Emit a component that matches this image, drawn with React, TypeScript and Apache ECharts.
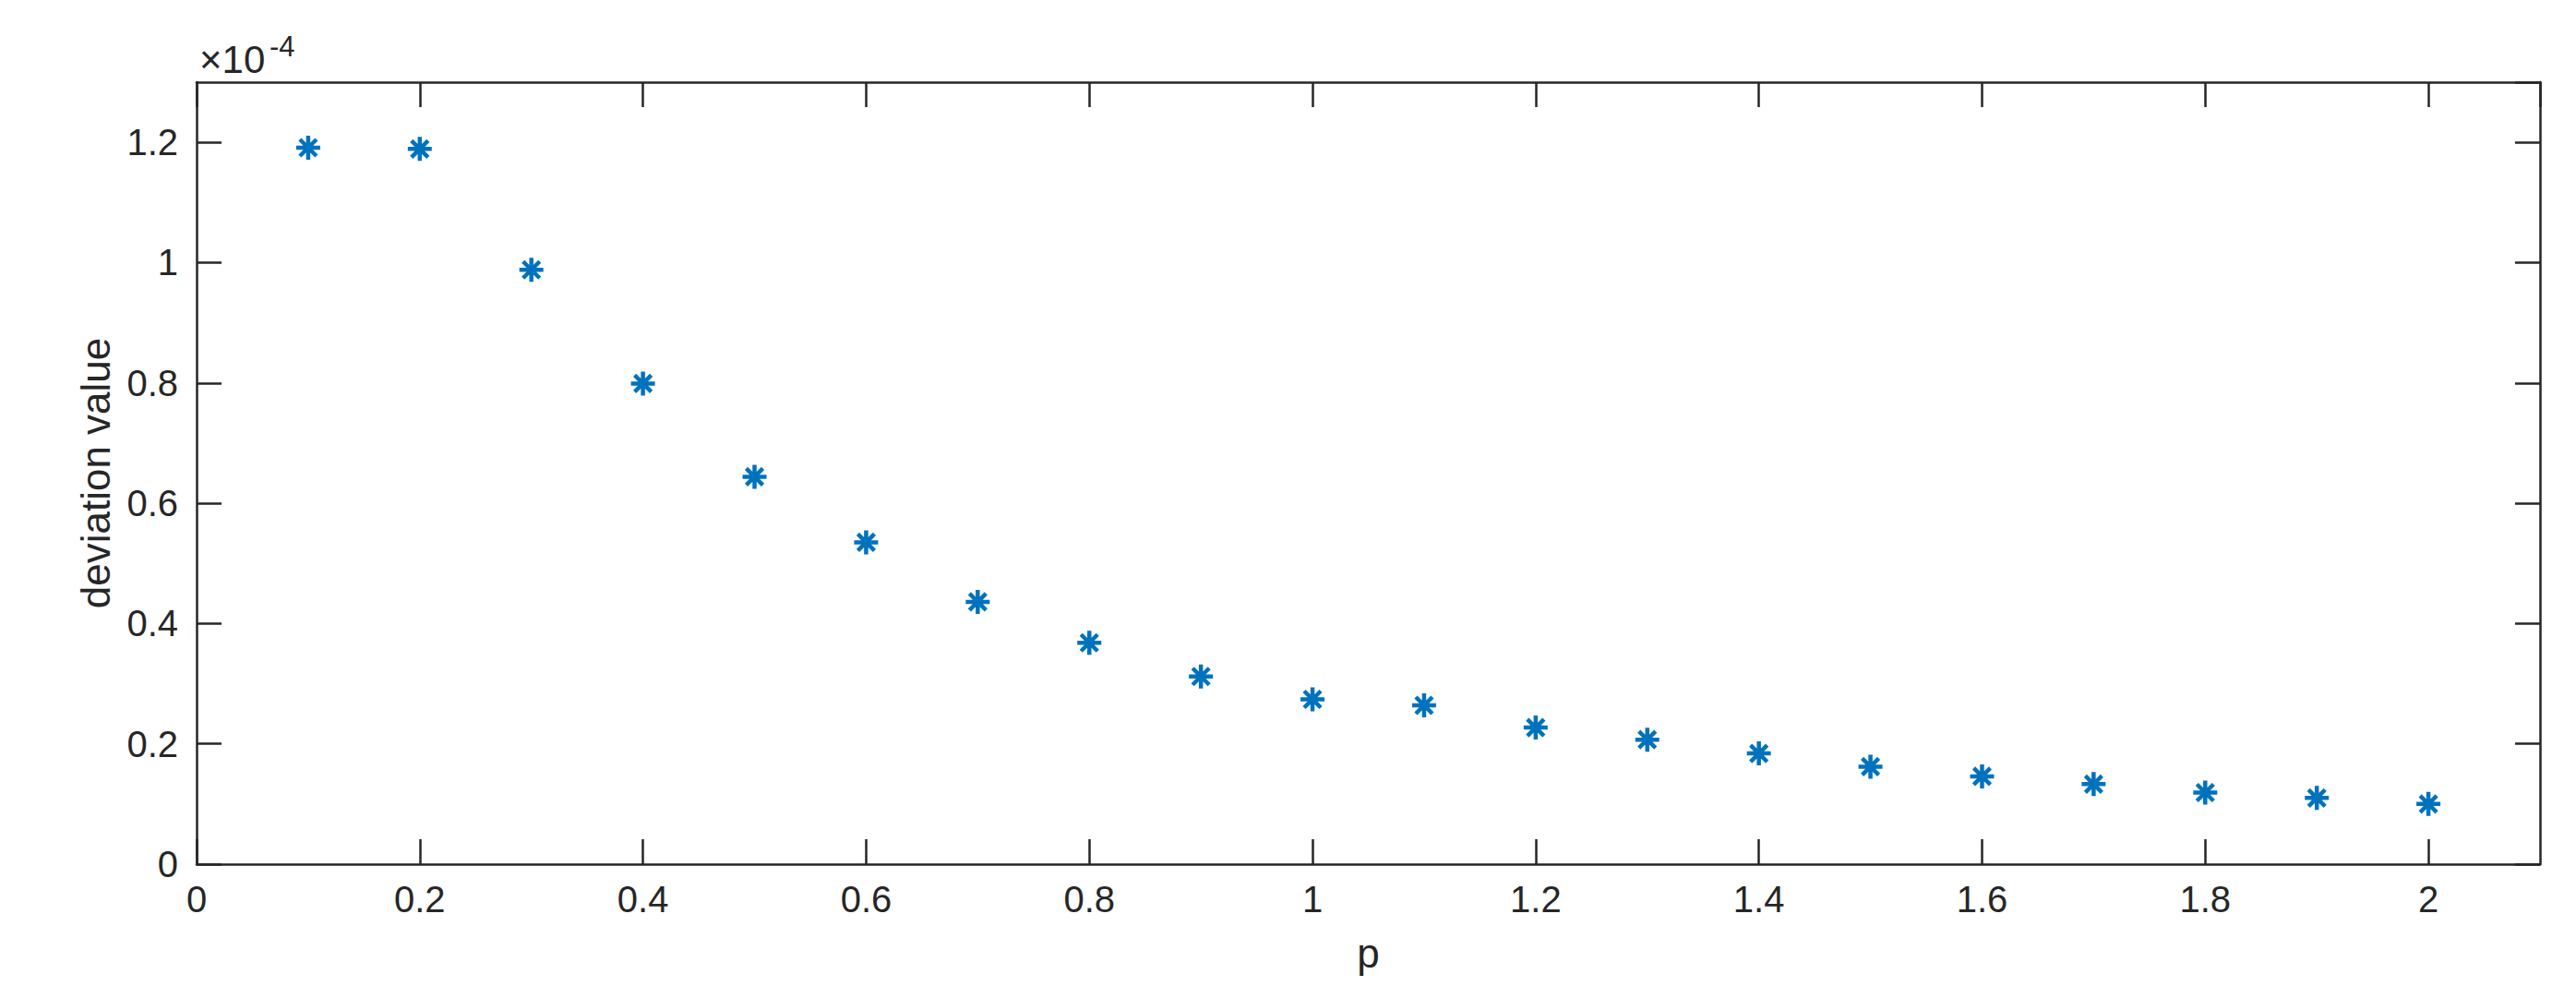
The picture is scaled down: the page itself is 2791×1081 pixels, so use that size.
import React, { useEffect, useRef } from "react";
import * as echarts from "echarts";

const pValues = [0.1, 0.2, 0.3, 0.4, 0.5, 0.6, 0.7, 0.8, 0.9, 1.0, 1.1, 1.2, 1.3, 1.4, 1.5, 1.6, 1.7, 1.8, 1.9, 2.0];
// deviation values in units of 1e-4
const deviationE4 = [1.191, 1.189, 0.988, 0.799, 0.644, 0.535, 0.436, 0.368, 0.312, 0.274, 0.264, 0.227, 0.207, 0.184, 0.162, 0.146, 0.133, 0.119, 0.110, 0.100];

const xAxisName = "p";
const yAxisName = "deviation value";
const exponentBase = "×10";
const exponentSup = "-4";

const INK = "#262626";
const BLUE = "#0072BD";
const FONT = "Liberation Sans, Arial, Helvetica, sans-serif";

export default function App() {
  const ref = useRef<HTMLDivElement>(null);
  useEffect(() => {
    if (!ref.current) return;
    const chart = echarts.init(ref.current, undefined, { renderer: "svg" });
    const axisCommon = {
      axisLine: { show: true, onZero: false, lineStyle: { color: INK, width: 2.5 } },
      axisTick: { show: true, inside: true, length: 27, lineStyle: { color: INK, width: 2.5 } },
      splitLine: { show: false },
    };
    chart.setOption({
      animation: false,
      backgroundColor: "#ffffff",
      grid: { left: 213, top: 89, right: 39, bottom: 145, containLabel: false },
      xAxis: [
        {
          type: "value",
          min: 0,
          max: 2.1,
          interval: 0.2,
          position: "bottom",
          ...axisCommon,
          axisLabel: {
            show: true,
            showMaxLabel: false,
            margin: 18,
            color: INK,
            fontSize: 40,
            fontFamily: FONT,
            formatter: (v: number) => String(Math.round(v * 10) / 10),
          },
          name: xAxisName,
          nameLocation: "middle",
          nameGap: 74,
          nameTextStyle: { color: INK, fontSize: 44, fontFamily: FONT },
        },
        {
          type: "value",
          min: 0,
          max: 2.1,
          interval: 0.2,
          position: "top",
          ...axisCommon,
          axisLabel: { show: false },
        },
      ],
      yAxis: [
        {
          type: "value",
          min: 0,
          max: 1.3,
          interval: 0.2,
          position: "left",
          ...axisCommon,
          axisLabel: {
            show: true,
            showMaxLabel: false,
            margin: 20,
            color: INK,
            fontSize: 40,
            fontFamily: FONT,
            formatter: (v: number) => String(Math.round(v * 10) / 10),
          },
          name: yAxisName,
          nameLocation: "middle",
          nameGap: 88,
          nameRotate: 90,
          nameTextStyle: { color: INK, fontSize: 44, fontFamily: FONT },
        },
        {
          type: "value",
          min: 0,
          max: 1.3,
          interval: 0.2,
          position: "right",
          ...axisCommon,
          axisLabel: { show: false },
        },
      ],
      graphic: [
        {
          type: "text",
          left: 216,
          top: 43,
          style: { text: exponentBase, fill: INK, font: `42px ${FONT}` },
        },
        {
          type: "text",
          left: 292,
          top: 35,
          style: { text: exponentSup, fill: INK, font: `31px ${FONT}` },
        },
      ],
      series: [
        {
          type: "scatter",
          xAxisIndex: 0,
          yAxisIndex: 0,
          data: pValues.map((p, i) => [p, deviationE4[i]]),
          symbol: "path://M0,-13L0,13M-13,0L13,0M-9,-9L9,9M-9,9L9,-9",
          symbolSize: 26,
          itemStyle: { color: BLUE, borderColor: BLUE, borderWidth: 4.5, opacity: 1 },
        },
      ],
    });
    return () => chart.dispose();
  }, []);
  return <div ref={ref} style={{ position: "fixed", left: 0, top: 0, width: 2791, height: 1081 }} />;
}
